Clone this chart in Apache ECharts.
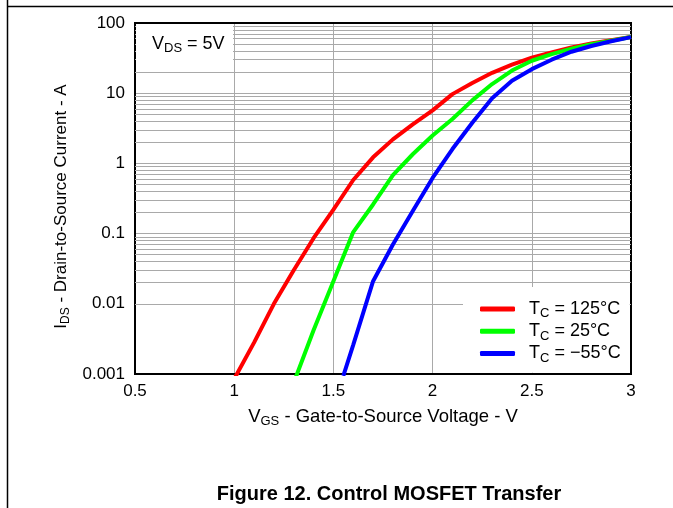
<!DOCTYPE html>
<html>
<head>
<meta charset="utf-8">
<script src="https://cdn.jsdelivr.net/npm/echarts@6/dist/echarts.min.js"></script>
<style>
html,body{margin:0;padding:0;background:#fff;}
#c{width:673px;height:508px;}
</style>
</head>
<body>
<div id="c"></div>
<script>
// Data (VGS in V, IDS in A)
const vgsRed   = [1.0, 1.1, 1.2, 1.3, 1.4, 1.5, 1.6, 1.7, 1.8, 1.9, 2.0, 2.1, 2.2, 2.3, 2.4, 2.5, 2.6, 2.7, 2.8, 2.9, 3.0];
const idsRed   = [0.00085, 0.0028, 0.01, 0.03, 0.086, 0.22, 0.58, 1.22, 2.2, 3.6, 5.7, 9.7, 14, 19.5, 25.5, 32, 38, 45, 51, 57, 63];
const vgsGreen = [1.3, 1.4, 1.5, 1.6, 1.7, 1.8, 1.9, 2.0, 2.1, 2.2, 2.3, 2.4, 2.5, 2.6, 2.7, 2.8, 2.9, 3.0];
const idsGreen = [0.00075, 0.0042, 0.021, 0.105, 0.26, 0.68, 1.35, 2.5, 4.3, 7.9, 13.5, 21, 29, 36, 43, 50, 56, 63];
const vgsBlue  = [1.55, 1.6, 1.7, 1.8, 1.9, 2.0, 2.1, 2.2, 2.3, 2.4, 2.5, 2.6, 2.7, 2.8, 2.9, 3.0];
const idsBlue  = [0.00094, 0.0026, 0.021, 0.07, 0.21, 0.62, 1.6, 3.8, 8.5, 15, 22, 30, 39, 47, 55, 63];
const seriesNames = ['125', '25', '−55'];
const xTicks = [0.5, 1, 1.5, 2, 2.5, 3];
const yTicks = [0.001, 0.01, 0.1, 1, 10, 100];

const FONT = "'Liberation Sans', Arial, sans-serif";
const gridColor = '#a9a9a9';

// minor log grid values (2..9 per decade)
const minorVals = [];
for (let d = -3; d <= 1; d++) {
  for (let k = 2; k <= 9; k++) minorVals.push(+(k * Math.pow(10, d)).toPrecision(3));
}

function pairs(xs, ys) { return xs.map((x, i) => [x, ys[i]]); }

function mkRich(big, small, lh) {
  return {
    n: {fontSize: big, fontFamily: FONT, color: '#000', lineHeight: lh},
    s: {fontSize: small, fontFamily: FONT, color: '#000', lineHeight: Math.round(lh * 0.45), verticalAlign: 'bottom'},
    g: {width: 9, lineHeight: lh}
  };
}

const chart = echarts.init(document.getElementById('c'), null, {renderer: 'canvas'});
const colors = ['#ff0000', '#00ff00', '#0000ff'];
const datasets = [pairs(vgsRed, idsRed), pairs(vgsGreen, idsGreen), pairs(vgsBlue, idsBlue)];

const series = datasets.map((d, i) => ({
  name: seriesNames[i],
  type: 'line',
  data: d,
  showSymbol: false,
  symbol: 'none',
  smooth: false,
  z: 5,
  lineStyle: {color: colors[i], width: 4},
  itemStyle: {color: colors[i]},
  clip: true
}));
series.unshift({
  name: 'minorgrid',
  type: 'line',
  data: [],
  z: 1,
  markLine: {
    silent: true,
    symbol: ['none', 'none'],
    label: {show: false},
    animation: false,
    lineStyle: {color: gridColor, width: 1, type: 'solid'},
    emphasis: {disabled: true},
    data: minorVals.map(v => ({yAxis: v}))
  }
});

chart.setOption({
  animation: false,
  backgroundColor: '#fff',
  grid: {left: 135, right: 42, top: 23, bottom: 134, show: true, borderColor: '#000', borderWidth: 2, backgroundColor: 'transparent', z: 3},
  xAxis: {
    type: 'value', min: 0.5, max: 3, interval: 0.5,
    axisLine: {show: false}, axisTick: {show: false},
    splitLine: {show: true, lineStyle: {color: gridColor, width: 1}},
    axisLabel: {fontSize: 17, fontFamily: FONT, color: '#000', margin: 9,
      formatter: v => String(+v.toFixed(2))},
    name: '{n|V}{s|GS}{n| - Gate-to-Source Voltage - V}',
    nameLocation: 'middle', nameGap: 32,
    nameTextStyle: {rich: mkRich(18.5, 13, 22)}
  },
  yAxis: {
    type: 'log', logBase: 10, min: 0.001, max: 100,
    axisLine: {show: false}, axisTick: {show: false},
    splitLine: {show: true, lineStyle: {color: gridColor, width: 1}},
    axisLabel: {fontSize: 17, fontFamily: FONT, color: '#000', margin: 10,
      formatter: v => { let best = yTicks[0]; yTicks.forEach(t => { if (Math.abs(Math.log10(t) - Math.log10(v)) < Math.abs(Math.log10(best) - Math.log10(v))) best = t; }); return String(best); }},
    name: '{n|I}{s|DS}{n| - Drain-to-Source Current - A}',
    nameLocation: 'middle', nameGap: 47, nameRotate: 90,
    nameTextStyle: {rich: mkRich(17, 12, 20), padding: [0, 16, 0, 0]}
  },
  legend: {
    data: seriesNames,
    orient: 'vertical',
    left: 463, top: 287,
    padding: [13, 9, 8, 17],
    itemWidth: 35, itemHeight: 5,
    itemGap: 2,
    icon: 'roundRect',
    backgroundColor: '#fff',
    z: 10,
    textStyle: {fontFamily: FONT, fontSize: 18, color: '#000', rich: mkRich(18, 13, 22.5)},
    formatter: name => '{g|}{n|T}{s|C}{n| = ' + name + '°C}',
    selectedMode: false
  },
  graphic: [
    {type: 'rect', z: 10, shape: {x: 136, y: 24, width: 97, height: 40}, style: {fill: '#fff'}},
    {type: 'text', z: 11, left: 152, top: 35,
      style: {text: '{n|V}{s|DS}{n| = 5V}', rich: mkRich(18, 13, 21)}},
    {type: 'line', z: 20, shape: {x1: 7.5, y1: 0, x2: 7.5, y2: 508}, style: {stroke: '#000', lineWidth: 1.5}},
    {type: 'line', z: 20, shape: {x1: 7, y1: 6.5, x2: 673, y2: 6.5}, style: {stroke: '#000', lineWidth: 1.5}},
    {type: 'text', z: 11, x: 389, y: 494,
      style: {text: 'Figure 12. Control MOSFET Transfer', font: 'bold 20px ' + FONT, fill: '#000', align: 'center', verticalAlign: 'middle'}}
  ],
  series: series
});
</script>
</body>
</html>
